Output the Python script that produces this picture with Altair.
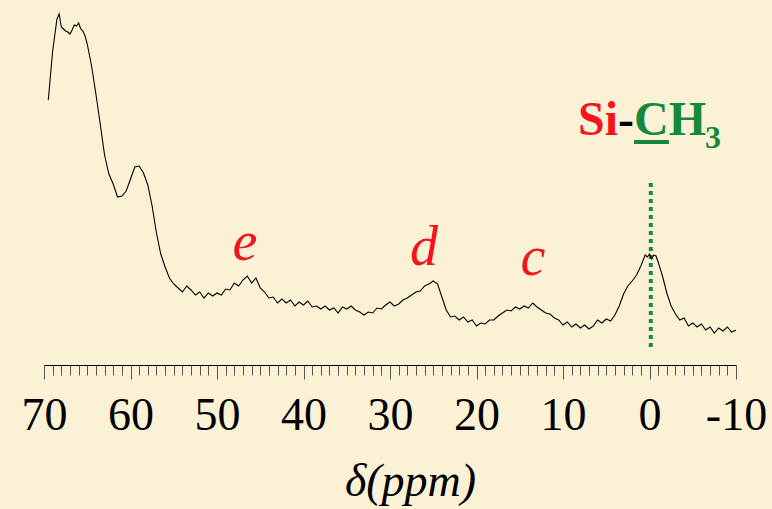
import altair as alt
import pandas as pd

# chemical shift (ppm) and signal intensity
ppm = [69.5, 69.25, 69.0, 68.75, 68.5, 68.25, 68.0, 67.75, 67.5, 67.25, 67.0, 66.75, 66.5, 66.25,
       66.0, 65.75, 65.5, 65.25, 65.0, 64.5, 64.0, 63.5, 63.0, 62.5, 62.0, 61.5, 61.0, 60.5, 60.0,
       59.5, 59.0, 58.5, 58.0, 57.5, 57.0, 56.5, 56.0, 55.5, 55.0, 54.5, 54.0, 53.5, 53.0, 52.5,
       52.0, 51.5, 51.0, 50.5, 50.0, 49.5, 49.0, 48.5, 48.0, 47.5, 47.0, 46.5, 46.0, 45.5, 45.0,
       44.5, 44.0, 43.5, 43.0, 42.5, 42.0, 41.5, 41.0, 40.5, 40.0, 39.5, 39.0, 38.5, 38.0, 37.5,
       37.0, 36.5, 36.0, 35.5, 35.0, 34.5, 34.0, 33.5, 33.0, 32.5, 32.0, 31.5, 31.0, 30.5, 30.0,
       29.5, 29.0, 28.5, 28.0, 27.5, 27.0, 26.5, 26.0, 25.5, 25.0, 24.5, 24.0, 23.5, 23.0, 22.5,
       22.0, 21.5, 21.0, 20.5, 20.0, 19.5, 19.0, 18.5, 18.0, 17.5, 17.0, 16.5, 16.0, 15.5, 15.0,
       14.5, 14.0, 13.5, 13.0, 12.5, 12.0, 11.5, 11.0, 10.5, 10.0, 9.5, 9.0, 8.5, 8.0, 7.5, 7.0,
       6.5, 6.0, 5.5, 5.0, 4.5, 4.0, 3.5, 3.0, 2.5, 2.0, 1.5, 1.0, 0.5, 0.25, 0.0, -0.25, -0.5,
       -0.75, -1.0, -1.5, -2.0, -2.5, -3.0, -3.5, -4.0, -4.5, -5.0, -5.5, -6.0, -6.5, -7.0, -7.5,
       -8.0, -8.5, -9.0, -9.5, -10.0]
intensity = [265, 290, 314, 330, 346, 351, 338, 336, 334, 333, 331, 335, 340, 339,
             342, 336, 334, 329, 321, 299, 271, 241, 210, 191, 181, 168, 169, 174, 186,
             198, 199, 192, 180, 159, 132, 111, 98, 87, 81, 77, 73, 79, 75, 70,
             73, 67, 72, 69, 72, 70, 76, 75, 82, 79, 85, 89, 82, 87, 77,
             73, 67, 68, 62, 66, 62, 65, 59, 63, 60, 64, 58, 59, 56, 59,
             55, 57, 52, 58, 56, 59, 55, 53, 50, 53, 52, 57, 56, 60, 63,
             59, 61, 65, 67, 70, 73, 74, 79, 81, 84, 81, 68, 55, 48, 49,
             45, 48, 43, 45, 39, 42, 41, 45, 45, 49, 52, 55, 54, 58, 56,
             59, 57, 62, 58, 55, 52, 51, 47, 45, 40, 43, 38, 41, 37, 40, 36,
             39, 45, 42, 46, 44, 50, 59, 71, 79, 84, 90, 99, 110, 108, 111, 106, 110,
             109, 103, 89, 72, 59, 51, 45, 47, 39, 42, 38, 41, 35, 38, 32,
             37, 34, 38, 33, 35]

tick_values = list(range(-10, 71))

peak_labels = ["e", "d", "c"]
peak_ppm = [46.76, 26.07, 13.47]
peak_int = [105, 100, 90]

RED = "#f5141e"
GREEN = "#15893a"
SERIF = "Liberation Serif"

spec = pd.DataFrame({"ppm": ppm, "intensity": intensity})

xscale = alt.Scale(domain=[70, -10], nice=False, zero=False)
yscale = alt.Scale(domain=[0, 355], nice=False, zero=False)
xaxis = alt.Axis(
    values=tick_values,
    tickSize={"condition": {"test": "datum.value % 10 === 0", "value": 14}, "value": 10},
    tickColor="#555555",
    tickWidth=1,
    domainColor="#000000",
    domainWidth=1,
    labelExpr="datum.value % 10 === 0 ? ('' + datum.value) : ''",
    labelFont=SERIF,
    labelFontSize=46,
    labelColor="#000000",
    labelBaseline="alphabetic",
    labelPadding=50,
    labelOverlap=False,
    labelFlush=False,
    labelBound=False,
    grid=False,
    title="δ(ppm)",
    titleFont=SERIF,
    titleFontStyle="italic",
    titleFontWeight="normal",
    titleFontSize=46,
    titleColor="#000000",
    titleX=366,
    titleY=130,
    titleAlign="center",
    titleBaseline="alphabetic",
)


def X(field="ppm"):
    return alt.X(f"{field}:Q", scale=xscale, axis=xaxis)


def Y(field="intensity"):
    return alt.Y(f"{field}:Q", scale=yscale, axis=None)


line = alt.Chart(spec).mark_line(color="#000000", strokeWidth=1.1).encode(x=X(), y=Y())

peaks = pd.DataFrame({"ppm": peak_ppm, "intensity": peak_int, "t": peak_labels})
peak_text = alt.Chart(peaks).mark_text(
    font=SERIF, fontStyle="italic", fontSize=56, color=RED, align="center", baseline="alphabetic"
).encode(x=X(), y=Y(), text="t:N")

si = pd.DataFrame({"ppm": [8.27], "intensity": [230], "t": ["Si"]})
dash = pd.DataFrame({"ppm": [3.64], "intensity": [230], "t": ["-"]})
ch = pd.DataFrame({"ppm": [1.79], "intensity": [230], "t": ["CH"]})
sub3 = pd.DataFrame({"ppm": [-6.42], "intensity": [217], "t": ["3"]})


def label(df, color, size):
    return alt.Chart(df).mark_text(
        font=SERIF, fontWeight="bold", fontSize=size, color=color, align="left", baseline="alphabetic"
    ).encode(x=X(), y=Y(), text="t:N")


underline = alt.Chart(pd.DataFrame({"ppm": [1.79], "ppm2": [-2.25], "intensity": [223]})).mark_rule(
    color=GREEN, strokeWidth=4
).encode(x=X(), x2="ppm2:Q", y=Y())

dotted = alt.Chart(pd.DataFrame({"ppm": [-0.15], "intensity": [182], "i2": [18]})).mark_rule(
    color=GREEN, strokeWidth=4, strokeDash=[4, 4]
).encode(x=X(), y=Y(), y2="i2:Q")

chart = alt.layer(
    dotted, line, peak_text,
    label(si, RED, 48), label(dash, "#000000", 48), label(ch, GREEN, 48), label(sub3, GREEN, 32),
    underline,
).properties(
    width=692,
    height=355,
    autosize=alt.AutoSizeParams(type="none"),
    padding={"left": 44, "top": 10, "right": 36, "bottom": 144},
    background="#fbf2d6",
).configure_view(stroke=None)

chart.save("out.html", embed_options={"renderer": "svg", "actions": False})
